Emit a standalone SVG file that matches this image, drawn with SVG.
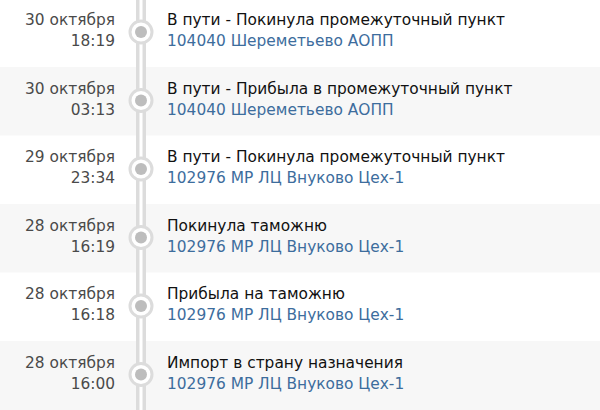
<svg xmlns="http://www.w3.org/2000/svg" width="600" height="410" viewBox="0 0 600 410">
<style>
.band{fill:#f7f7f7}
text{font-family:"DejaVu Sans","Noto Sans",sans-serif;font-size:15.4px}
.d{fill:#4a4a4a;text-anchor:end}
.t{fill:#111}
.l{fill:#3d6d9d}
.ring{fill:#fff;stroke:#dcdcdc;stroke-width:3}
.dot{fill:#bdbdbd}
</style>
<rect width="600" height="410" fill="#fff"/>
<rect class="band" x="0" y="67" width="600" height="68.5"/>
<rect class="band" x="0" y="204" width="600" height="68.5"/>
<rect class="band" x="0" y="341" width="600" height="69"/>
<g id="connectors">
<rect x="136" y="0" width="10" height="410" fill="#dcdcdc"/>
<rect x="139.5" y="0" width="3" height="410" fill="#fff"/>
</g>
<g id="n1">
<circle class="ring" cx="141" cy="32" r="11"/><circle class="dot" cx="141" cy="32" r="6"/>
<text class="d" x="115" y="25">30 октября</text><text class="d" x="115" y="46">18:19</text>
<text class="t" x="167" y="25">В пути - Покинула промежуточный пункт</text>
<text class="l" x="167" y="46">104040 Шереметьево АОПП</text>
</g>
<g id="n2">
<circle class="ring" cx="141" cy="100.5" r="11"/><circle class="dot" cx="141" cy="100.5" r="6"/>
<text class="d" x="115" y="93.5">30 октября</text><text class="d" x="115" y="114.5">03:13</text>
<text class="t" x="167" y="93.5">В пути - Прибыла в промежуточный пункт</text>
<text class="l" x="167" y="114.5">104040 Шереметьево АОПП</text>
</g>
<g id="n3">
<circle class="ring" cx="141" cy="169" r="11"/><circle class="dot" cx="141" cy="169" r="6"/>
<text class="d" x="115" y="162">29 октября</text><text class="d" x="115" y="183">23:34</text>
<text class="t" x="167" y="162">В пути - Покинула промежуточный пункт</text>
<text class="l" x="167" y="183">102976 МР ЛЦ Внуково Цех-1</text>
</g>
<g id="n4">
<circle class="ring" cx="141" cy="237.5" r="11"/><circle class="dot" cx="141" cy="237.5" r="6"/>
<text class="d" x="115" y="230.5">28 октября</text><text class="d" x="115" y="251.5">16:19</text>
<text class="t" x="167" y="230.5">Покинула таможню</text>
<text class="l" x="167" y="251.5">102976 МР ЛЦ Внуково Цех-1</text>
</g>
<g id="n5">
<circle class="ring" cx="141" cy="306" r="11"/><circle class="dot" cx="141" cy="306" r="6"/>
<text class="d" x="115" y="299">28 октября</text><text class="d" x="115" y="320">16:18</text>
<text class="t" x="167" y="299">Прибыла на таможню</text>
<text class="l" x="167" y="320">102976 МР ЛЦ Внуково Цех-1</text>
</g>
<g id="n6">
<circle class="ring" cx="141" cy="374.5" r="11"/><circle class="dot" cx="141" cy="374.5" r="6"/>
<text class="d" x="115" y="367.5">28 октября</text><text class="d" x="115" y="388.5">16:00</text>
<text class="t" x="167" y="367.5">Импорт в страну назначения</text>
<text class="l" x="167" y="388.5">102976 МР ЛЦ Внуково Цех-1</text>
</g>
</svg>
